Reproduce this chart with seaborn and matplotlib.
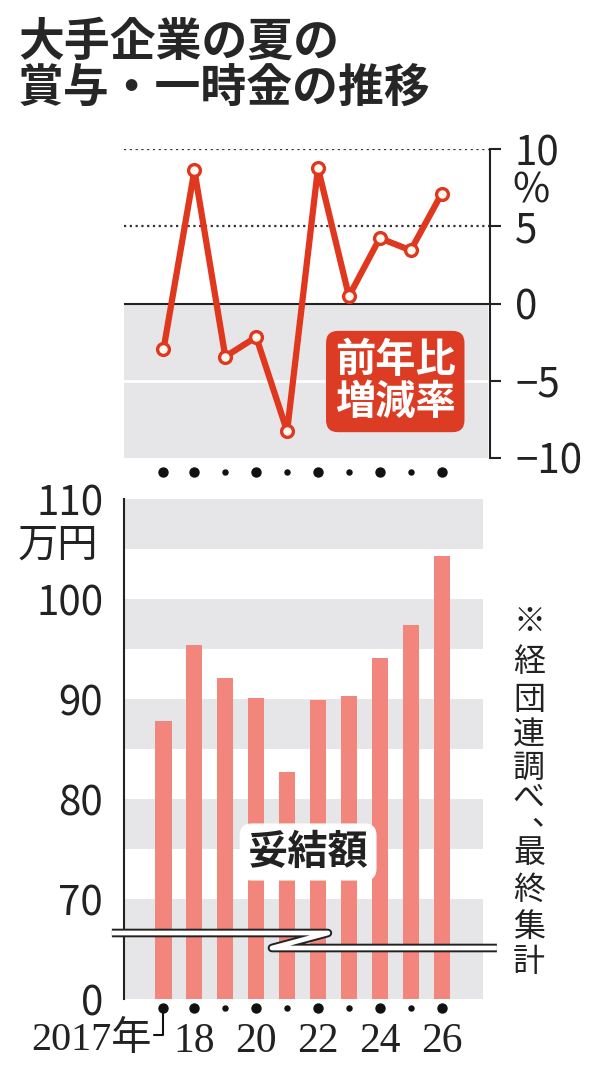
# summer bonus chart: change rate (top) and settled amount (bottom)
import numpy as np
import matplotlib
matplotlib.use('Agg')
import matplotlib.pyplot as plt
import matplotlib.transforms as mtransforms
import seaborn as sns

years = [2017, 2018, 2019, 2020, 2021, 2022, 2023, 2024, 2025, 2026]
change_pct = [-2.97, 8.62, -3.44, -2.17, -8.27, 8.77, 0.47, 4.23, 3.44, 7.1]
amount_man_yen = [87.8, 95.4, 92.1, 90.1, 82.7, 89.9, 90.3, 94.1, 97.4, 104.3]
labeled_years = [2018, 2020, 2022, 2024, 2026]
labeled_names = ['18', '20', '22', '24', '26']
big_dot_years = [2017, 2018, 2020, 2022, 2024, 2026]
small_dot_years = [2019, 2021, 2023, 2025]

RED = '#e0371f'
BOX_RED = '#dc3c24'
BAR = '#f3867c'
GRAY = '#e6e6e8'
CJK = ['Noto Sans CJK JP', 'DejaVu Sans']
SERIF = ['Liberation Serif', 'Noto Sans CJK JP']

sns.set_style('white')
plt.rcParams['font.family'] = CJK
plt.rcParams['axes.unicode_minus'] = True

W, H = 600, 1075
fig = plt.figure(figsize=(6, 10.75), dpi=100)

def fx(px):
    return px / W

def fy(py):
    return 1 - py / H

# x range shared by both panels (in year units)
x0, step = 163.5, 30.9
xlim = (2017 + (124 - x0) / step, 2017 + (490 - x0) / step)

# title
fig.text(fx(18), fy(43), '大手企業の夏の', fontsize=33, fontweight='bold', va='center', ha='left')
fig.text(fx(18), fy(89), '賞与・一時金の推移', fontsize=33, fontweight='bold', va='center', ha='left')

# ---- top panel: year-on-year change ----
ax1 = fig.add_axes([fx(124), fy(458), (490 - 124) / W, 309 / H])
ax1.set_xlim(*xlim)
ax1.set_ylim(-10, 10)
ax1.axhspan(-10, 0, xmin=0, xmax=0.995, color=GRAY, lw=0, zorder=0)
ax1.axhline(-5, xmin=0, xmax=0.995, color='white', lw=2, zorder=0.5)
for v in (5, 10):
    ax1.axhline(v, color='#333333', lw=1.6, ls=(0, (1, 1.6)), zorder=0.5)
ax1.axhline(0, color='#222222', lw=1.5, zorder=0.6)

sns.lineplot(x=years, y=change_pct, ax=ax1, color=RED, lw=4.5, marker='o',
             markersize=8.5, markerfacecolor='#fffaf0', markeredgecolor=RED,
             markeredgewidth=2.4, zorder=3)

for side in ('left', 'top', 'bottom'):
    ax1.spines[side].set_visible(False)
ax1.spines['right'].set_color('#222222')
ax1.spines['right'].set_linewidth(1.5)
ax1.yaxis.tick_right()
ax1.set_yticks([-10, -5, 0, 5, 10], labels=['−10', '−5', '0', '5', '10'])
ax1.tick_params(axis='y', direction='out', length=8, width=1.5, color='#222222',
                labelsize=29, pad=10, labelcolor='#222222')
ax1.set_xticks([])
ax1.set_xlabel('')
ax1.set_ylabel('')
ax1.text(1.06, 7.3, '%', transform=mtransforms.blended_transform_factory(ax1.transAxes, ax1.transData),
         fontsize=29, ha='left', va='center', color='#222222')
ax1.text(2024.5, -5.05, '前年比\n増減率', fontsize=29, fontweight='bold', color='white',
         ha='center', va='center', linespacing=1.05, zorder=4,
         bbox=dict(boxstyle='round,pad=0.22,rounding_size=0.3', fc=BOX_RED, ec='none'))

tr1 = mtransforms.blended_transform_factory(ax1.transData, ax1.transAxes)
ax1.scatter(big_dot_years, [-0.045] * len(big_dot_years), s=42, color='#111111',
            transform=tr1, clip_on=False)
ax1.scatter(small_dot_years, [-0.045] * len(small_dot_years), s=13, color='#111111',
            transform=tr1, clip_on=False)

# ---- bottom panel: settled amount ----
ax2 = fig.add_axes([fx(124), fy(999), (490 - 124) / W, 500 / H])
for lo, hi in [(60, 70), (75, 80), (85, 90), (95, 100), (105, 110)]:
    ax2.axhspan(lo, hi, xmin=0, xmax=0.981, color=GRAY, lw=0, zorder=0)

sns.barplot(x=years, y=amount_man_yen, ax=ax2, native_scale=True, width=0.52,
            color=BAR, saturation=1, linewidth=0, edgecolor='none', zorder=2)
ax2.set_xlim(*xlim)
ax2.set_ylim(60, 110)

for side in ('right', 'top', 'bottom'):
    ax2.spines[side].set_visible(False)
ax2.spines['left'].set_color('#222222')
ax2.spines['left'].set_linewidth(1.5)
ax2.set_yticks([60, 70, 80, 90, 100, 110], labels=['0', '70', '80', '90', '100', '110'])
ax2.set_yticks([75, 85, 95, 105], minor=True)
ax2.tick_params(axis='y', which='both', direction='out', length=12, width=1.5,
                color='#222222', labelsize=29, pad=3, labelcolor='#222222')
ax2.set_xticks(labeled_years, labels=labeled_names)
ax2.tick_params(axis='x', length=0, pad=17, labelsize=30, labelcolor='#222222')
for lab in ax2.get_xticklabels():
    lab.set_fontfamily(SERIF)
ax2.set_xlabel('')
ax2.set_ylabel('')

ax2.text(-0.07, 105.4, '万円', transform=mtransforms.blended_transform_factory(ax2.transAxes, ax2.transData),
         fontsize=29, ha='right', va='center', color='#222222')
ax2.text(2021.68, 74.7, '妥結額', fontsize=29, fontweight='bold', color='#222222',
         ha='center', va='center', zorder=4,
         bbox=dict(boxstyle='round,pad=0.2,rounding_size=0.3', fc='white', ec='none'))

# axis break mark
brk_x = [2015.33, 2022.32, 2020.51, 2027.79]
brk_y = [66.6, 66.6, 65.1, 65.1]
ax2.plot(brk_x, brk_y, color='#222222', lw=6.2, solid_joinstyle='round',
         solid_capstyle='butt', clip_on=False, zorder=5)
ax2.plot(brk_x, brk_y, color='white', lw=3.4, solid_joinstyle='round',
         solid_capstyle='butt', clip_on=False, zorder=6)

tr2 = mtransforms.blended_transform_factory(ax2.transData, ax2.transAxes)
ax2.scatter(big_dot_years, [-0.018] * len(big_dot_years), s=42, color='#111111',
            transform=tr2, clip_on=False)
ax2.scatter(small_dot_years, [-0.018] * len(small_dot_years), s=13, color='#111111',
            transform=tr2, clip_on=False)
# bracket from 2017 dot to its label
ax2.plot([2017, 2017, 2016.7], [-0.018, -0.072, -0.072], color='#111111', lw=1.5,
         transform=tr2, clip_on=False)
ax2.text(2016.62, -0.082, '2017年', transform=tr2, fontsize=29, family=SERIF,
         ha='right', va='center', color='#222222')

# source note, written vertically
note = '※経団連調べ、最終集計'
note_y = [622, 662, 700, 736, 768, 798, 824, 853, 890, 927, 962]
for ch, py in zip(note, note_y):
    if ch == '、':
        # comma sits at the upper right in vertical writing
        fig.text(fx(531), fy(py), ch, fontsize=23, ha='left', va='baseline', color='#222222')
    else:
        fig.text(fx(529), fy(py), ch, fontsize=23, ha='center', va='center', color='#222222')

fig.savefig('out.png', dpi=100)
